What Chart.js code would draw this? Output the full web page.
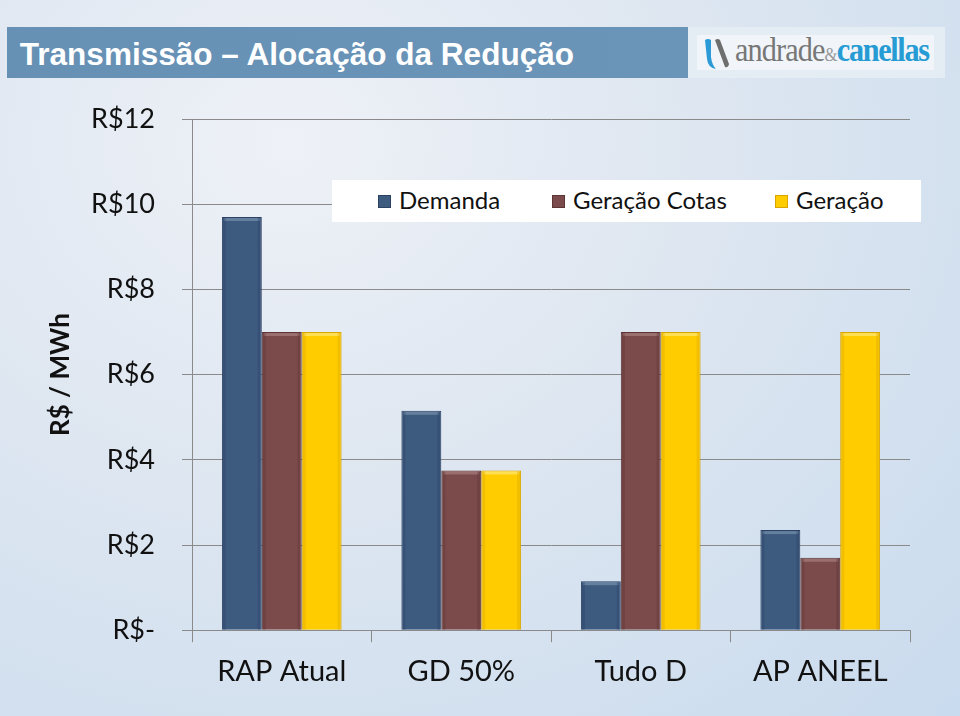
<!DOCTYPE html>
<html>
<head>
<meta charset="utf-8">
<script src="https://cdn.jsdelivr.net/npm/chart.js@4/dist/chart.umd.min.js"></script>
<style>
    html, body { margin: 0; padding: 0; }
    body {
        width: 960px; height: 716px; overflow: hidden; position: relative;
        background: radial-gradient(ellipse at 30% 20%, #eef1f7 0%, #dfe7f1 40%, #c9dbee 100%);
        font-family: Lato, "Open Sans", sans-serif;
    }
    #titlebar {
        position: absolute; left: 7px; top: 27px; width: 681px; height: 51px;
        background: linear-gradient(90deg, #6690b4, #6a94b8);
    }
    #titlebar h1 {
        margin: 0; padding-left: 13px;
        font: bold 32px "Liberation Sans", Arial, sans-serif; line-height: 54px; color: #fff;
        transform: scaleX(0.985); transform-origin: left; white-space: nowrap;
    }
    #logo {
        position: absolute; left: 688px; top: 27px; width: 257px; height: 51px;
        background: #e4ecf4;
    }
    #logo .box {
        position: absolute; left: 9px; top: 8px; width: 237px; height: 35px; background: #f1f5f9;
    }
    #logo .mark { position: absolute; left: 15px; top: 10px; width: 28px; height: 34px; }
    #logo .txt {
        position: absolute; left: 47px; top: 4px; font: 34px "Liberation Serif", serif;
        letter-spacing: -1px; color: #777; transform: scaleX(0.89); transform-origin: left;
        white-space: nowrap;
    }
    #logo .txt .amp { font-size: 19px; color: #999; }
    #logo .txt .c { color: #279bd3; font-weight: bold; letter-spacing: -1.5px; }
    #chart { position: absolute; left: 0; top: 0; }
    #legend {
        position: absolute; left: 332px; top: 180px; width: 589px; height: 42px;
        background: #fff; font: 24px Lato, sans-serif; color: #111;
    }
    #legend span.item { position: absolute; top: 5px; white-space: nowrap; }
    #legend i {
        display: inline-block; width: 13px; height: 13px; margin-right: 8px;
        vertical-align: 1px; box-sizing: border-box;
    }
</style>
</head>
<body>
<div id="titlebar"><h1>Transmissão – Alocação da Redução</h1></div>
<div id="logo">
    <div class="box"></div>
    <svg class="mark" viewBox="0 0 28 34">
        <path d="M2 3 Q5 1 8 3 L8 20 Q9 28 13 32 Q5 31 4 22 Z" fill="#2c9ad6"/>
        <path d="M12 3 Q15 1 17 3 L26 27 Q25 31 22 30 Z" fill="#6e6e6e"/>
    </svg>
    <div class="txt">andrade<span class="amp">&amp;</span><span class="c">canellas</span></div>
</div>
<canvas id="chart" width="960" height="716"></canvas>
<div id="legend"></div>
<script>
// categorias e séries (R$/MWh)
const categories = ['RAP Atual', 'GD 50%', 'Tudo D', 'AP ANEEL'];
const demanda = [9.7, 5.15, 1.15, 2.35];
const geracaoCotas = [7.0, 3.75, 7.0, 1.7];
const geracao = [7.0, 3.75, 7.0, 7.0];
const seriesNames = ['Demanda', 'Geração Cotas', 'Geração'];
const yTicks = [0, 2, 4, 6, 8, 10, 12];

const fills = ['#3d5a7f', '#7b4a4b', '#ffcc00'];
const edges = ['#2b4263', '#5c3434', '#d9a400'];
const highlights = ['#6f88a8', '#a57878', '#ffe566'];

const legendEl = document.getElementById('legend');
const legendX = [46, 220, 443];
seriesNames.forEach((name, i) => {
    const s = document.createElement('span');
    s.className = 'item';
    s.style.left = legendX[i] + 'px';
    s.innerHTML = '<i style="background:' + fills[i] + ';border:1px solid ' + edges[i] + '"></i>' + name;
    legendEl.appendChild(s);
});

// small bevel on top of each bar, like the office chart
const bevel = {
    id: 'bevel',
    afterDatasetsDraw(chart) {
        const c = chart.ctx;
        chart.data.datasets.forEach((ds, di) => {
            chart.getDatasetMeta(di).data.forEach(bar => {
                const w = bar.width, x0 = bar.x - w / 2;
                c.save();
                c.fillStyle = highlights[di];
                c.globalAlpha = 0.8;
                c.fillRect(x0 + 2, bar.y + 1, w - 4, 3);
                c.globalAlpha = 0.35;
                c.fillStyle = edges[di];
                c.fillRect(x0 + 1, bar.y + 1, 3, bar.base - bar.y - 1);
                c.fillRect(x0 + w - 4, bar.y + 1, 3, bar.base - bar.y - 1);
                c.restore();
            });
        });
    }
};

const ctx = document.getElementById('chart');
new Chart(ctx, {
    type: 'bar',
    data: {
        labels: categories,
        datasets: [demanda, geracaoCotas, geracao].map((d, i) => ({
            label: seriesNames[i],
            data: d,
            backgroundColor: fills[i],
            borderColor: edges[i],
            borderWidth: 1,
            categoryPercentage: 0.667,
            barPercentage: 1.0
        }))
    },
    options: {
        responsive: false,
        animation: false,
        layout: { padding: { top: 119, left: 41, right: 50, bottom: 15 } },
        plugins: {
            legend: { display: false },
            tooltip: { enabled: false }
        },
        scales: {
            x: {
                grid: { display: true, drawOnChartArea: false, offset: true, tickLength: 12, color: '#8a8a8a' },
                border: { color: '#8a8a8a' },
                ticks: { color: '#111', font: { family: 'Lato', size: 29 }, padding: 12 }
            },
            y: {
                min: 0, max: 12,
                afterBuildTicks: axis => { axis.ticks = yTicks.map(v => ({ value: v })); },
                afterFit: axis => { axis.width = 151; },
                grid: { color: '#8a8a8a', tickLength: 10 },
                border: { color: '#8a8a8a' },
                ticks: {
                    color: '#111', font: { family: 'Lato', size: 27 }, padding: 27,
                    callback: v => v === 0 ? 'R$-' : 'R$' + v
                },
                title: {
                    display: true, text: 'R$ / MWh', color: '#111',
                    font: { family: 'Lato', size: 26, weight: 'bold' }
                }
            }
        }
    },
    plugins: [bevel]
});
</script>
</body>
</html>
